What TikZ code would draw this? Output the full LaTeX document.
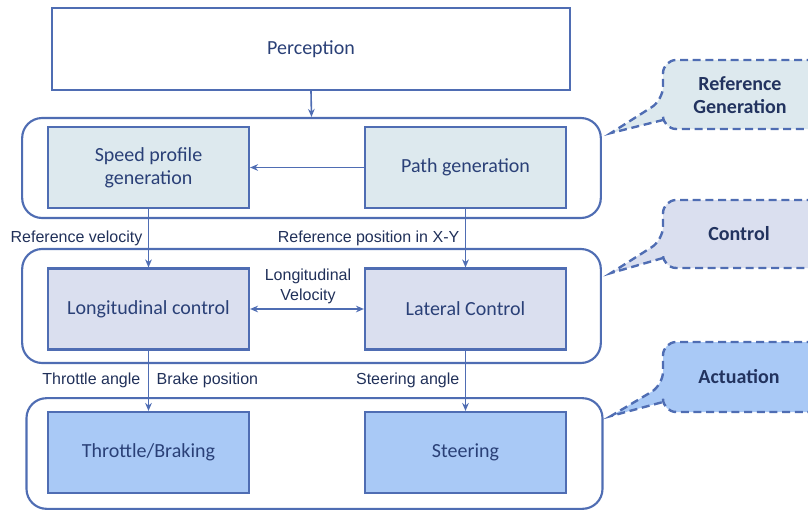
\documentclass[tikz,border=0pt]{standalone}
\usepackage{fontspec}
\setmainfont{Liberation Sans}
\newfontfamily\boxfont{Carlito}
\usetikzlibrary{arrows.meta}
\definecolor{lineblue}{HTML}{4F6DB3}
\definecolor{textblue}{HTML}{2A4077}
\definecolor{reffill}{HTML}{DDE9EE}
\definecolor{ctrlfill}{HTML}{DADFEF}
\definecolor{actfill}{HTML}{A9C9F6}
\tikzset{
  blockbox/.style={draw=lineblue, line width=1.6pt, minimum width=150.75pt, minimum height=60.75pt,
    align=center, text=textblue, font=\boxfont\fontsize{15}{17.5}\selectfont},
  groupbox/.style={draw=lineblue, line width=1.6pt, rounded corners=15pt},
  flow/.style={draw=lineblue, line width=1.2pt, -{Stealth[length=6pt,width=5pt]}},
  sig/.style={text=textblue!75!black, font=\fontsize{12}{15}\selectfont, align=center},
  callout/.style={draw=lineblue, line width=1.8pt, dash pattern=on 6pt off 3.5pt},
  callouttext/.style={text=textblue!80!black, font=\boxfont\bfseries\fontsize{15}{17}\selectfont, align=center}
}
\begin{document}
\begin{tikzpicture}[x=0.75pt, y=-0.75pt]
  \useasboundingbox (0,0) rectangle (808,511);

  %% groups
  \node[groupbox, minimum width=434pt, minimum height=75pt] (grpref) at (311.5,168) {};
  \node[groupbox, minimum width=434pt, minimum height=85.5pt] (grpctrl) at (311.5,306) {};
  \node[groupbox, minimum width=432pt, minimum height=83pt] (grpact) at (314.5,453.5) {};

  %% blocks
  \node[blockbox, minimum width=389pt, minimum height=61.5pt] (percep) at (311,49) {Perception};
  \node[blockbox, fill=reffill] (speed) at (148.5,167.5) {Speed profile\\generation};
  \node[blockbox, fill=reffill] (path) at (465.5,167.5) {Path generation};
  \node[blockbox, fill=ctrlfill] (longc) at (148.5,309) {Longitudinal control};
  \node[blockbox, fill=ctrlfill] (latc) at (465.5,309) {Lateral Control};
  \node[blockbox, fill=actfill] (thr) at (148.5,452.5) {Throttle/Braking};
  \node[blockbox, fill=actfill] (steer) at (465.5,452.5) {Steering};

  %% connectors
  \draw[flow] (percep.south) -- (grpref.north);
  \draw[flow] (path.west) -- (speed.east);
  \draw[flow] (speed.south) -- (longc.north);
  \draw[flow] (path.south) -- (latc.north);
  \draw[flow, {Stealth[length=6pt,width=5pt]}-{Stealth[length=6pt,width=5pt]}] (longc.east) -- (latc.west);
  \draw[flow] (longc.south) -- (thr.north);
  \draw[flow] (latc.south) -- (steer.north);

  %% signal labels
  \node[sig, anchor=east] (lblvel) at (147,238) {Reference velocity};
  \node[sig, anchor=east] (lblpos) at (464,238) {Reference position in X-Y};
  \node[sig] (lbllong) at (308,286) {Longitudinal\\Velocity};
  \node[sig, anchor=east] (lblthr) at (145,380) {Throttle angle};
  \node[sig, anchor=west] (lblbrk) at (152,380) {Brake position};
  \node[sig, anchor=east] (lblsteer) at (464,380) {Steering angle};

  %% callouts
  \draw[callout, fill=reffill] (840,60) [rounded corners=10pt] -- (663,60) -- (663,100) [sharp corners] -- (611,133) -- (663,120) [rounded corners=10pt] -- (663,129) -- (840,129);
  \node[callouttext] (txtref) at (740,95) {Reference\\Generation};
  \draw[callout, fill=ctrlfill] (840,200) [rounded corners=10pt] -- (663,200) -- (663,240) [sharp corners] -- (611,273) -- (663,258) [rounded corners=10pt] -- (663,268) -- (840,268);
  \node[callouttext] (txtctrl) at (739,234) {Control};
  \draw[callout, fill=actfill] (840,342) [rounded corners=10pt] -- (663,342) -- (663,385) [sharp corners] -- (611,416) -- (663,402) [rounded corners=10pt] -- (663,412) -- (840,412);
  \node[callouttext] (txtact) at (739,377) {Actuation};
\end{tikzpicture}
\end{document}
